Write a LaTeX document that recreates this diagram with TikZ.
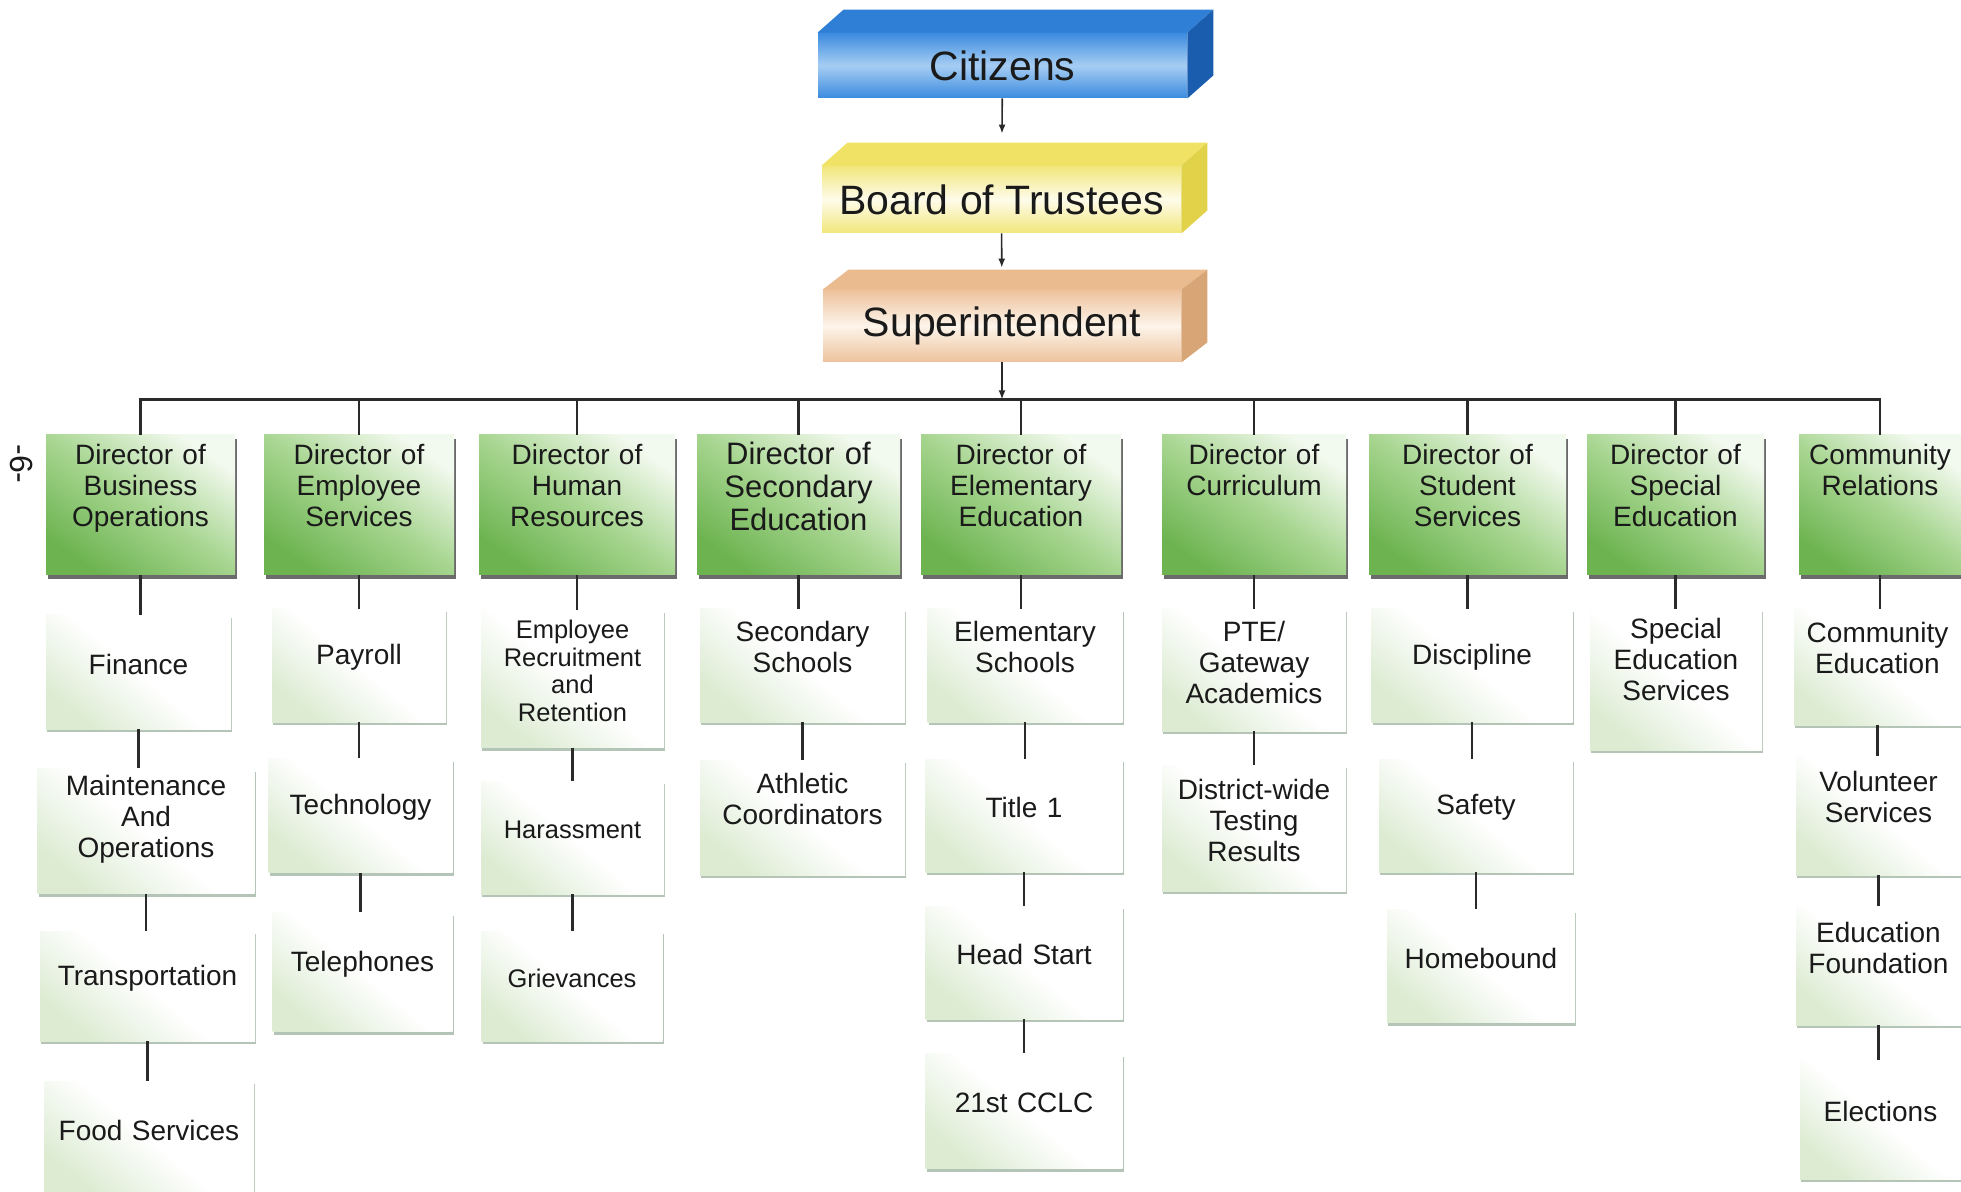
\documentclass[tikz,border=0pt]{standalone}
\usepackage{fontspec}
\setmainfont{Liberation Sans}
\usetikzlibrary{arrows.meta,positioning,calc,shadows}
\definecolor{CitTop}{HTML}{2E7FD5}
\definecolor{CitSide}{HTML}{1A5DAF}
\definecolor{CitFrontA}{HTML}{3B8BDF}
\definecolor{CitFrontB}{HTML}{A6CDF3}
\definecolor{BoardTop}{HTML}{EFE264}
\definecolor{BoardSide}{HTML}{E2D24A}
\definecolor{BoardFrontA}{HTML}{F2E67A}
\definecolor{BoardFrontB}{HTML}{FEFCEB}
\definecolor{SupTop}{HTML}{E9BB8F}
\definecolor{SupSide}{HTML}{D8A576}
\definecolor{SupFrontA}{HTML}{EDC29C}
\definecolor{SupFrontB}{HTML}{FDF4EA}
\definecolor{GreenDeep}{HTML}{6DB451}
\definecolor{GreenMid}{HTML}{A6D58F}
\definecolor{GreenPale}{HTML}{F2F9EE}
\definecolor{DirShadow}{HTML}{6B6B6B}
\definecolor{SubGreen}{HTML}{DCEBD2}
\definecolor{SubShadow}{HTML}{B4C4B6}
\definecolor{LineDark}{HTML}{2A2A2A}
\definecolor{TextDark}{HTML}{1A1A1A}

\begin{document}
\begin{tikzpicture}[x=0.5pt,y=-0.5pt,
    every node/.style={font=\fontsize{14}{15.5}\selectfont,text=TextDark},
    tier/.style={minimum width=#1,inner sep=0pt,font=\fontsize{20.5}{24}\selectfont},
    citbox/.style={tier=184.5pt,minimum height=32.5pt,top color=CitFrontA,bottom color=CitFrontA,middle color=CitFrontB},
    boardbox/.style={tier=179.5pt,minimum height=33.5pt,top color=BoardFrontA,bottom color=BoardFrontA,middle color=BoardFrontB},
    supbox/.style={tier=179pt,minimum height=36pt,top color=SupFrontA,bottom color=SupFrontA,middle color=SupFrontB},
    dirbox/.style={minimum width=#1,text width=#1-6pt,align=center,inner xsep=3pt,inner ysep=3pt,
      text height=12pt,text depth=52pt,
      top color=GreenPale,bottom color=GreenDeep,middle color=GreenMid,shading angle=-35,
      drop shadow={shadow xshift=1pt,shadow yshift=-2pt,fill=DirShadow,opacity=1}},
    lift/.style={execute at end node={\endgraf\vspace*{#1}}},
    subbox/.style 2 args={minimum width=#1,text width=#1-4pt,minimum height=#2,align=center,inner sep=2pt,
      top color=white,bottom color=SubGreen,middle color=white,shading angle=-40,lift=8pt,
      drop shadow={shadow xshift=.6pt,shadow yshift=-1.5pt,fill=SubShadow,opacity=1}},
    smallfont/.style={font=\fontsize{12.75}{13.75}\selectfont},
    link/.style={draw=LineDark,line width=1.2pt},
    arr/.style={-{Latex[length=4.5pt,width=3.5pt]},draw=LineDark,line width=.8pt}
  ]
    \useasboundingbox (0,0) rectangle (1961,1192);

    % page number
    \node[rotate=-90,font=\fontsize{16}{18}\selectfont] (page) at (22,464) {-6-};

    % governance
    \node[citbox] (cit) at (1002.5,65.5) {Citizens};
    \node[boardbox] (bot) at (1001.5,199.5) {Board of Trustees};
    \node[supbox] (sup) at (1002,326) {Superintendent};
    \fill[CitTop] (cit.north west) -- ++(26,-23) -- ($(cit.north east)+(26,-23)$) -- (cit.north east) -- cycle;
    \fill[CitSide] (cit.north east) -- ++(26,-23) -- ($(cit.south east)+(26,-23)$) -- (cit.south east) -- cycle;
    \fill[BoardTop] (bot.north west) -- ++(26,-23) -- ($(bot.north east)+(26,-23)$) -- (bot.north east) -- cycle;
    \fill[BoardSide] (bot.north east) -- ++(26,-23) -- ($(bot.south east)+(26,-23)$) -- (bot.south east) -- cycle;
    \fill[SupTop] (sup.north west) -- ++(26,-20) -- ($(sup.north east)+(26,-20)$) -- (sup.north east) -- cycle;
    \fill[SupSide] (sup.north east) -- ++(26,-20) -- ($(sup.south east)+(26,-20)$) -- (sup.south east) -- cycle;
    \draw[arr,shorten >=16pt] (cit) -- (bot);
    \draw[arr,shorten >=11pt] (bot) -- (sup);
    \coordinate (bus) at ($(sup.south)+(0,37)$);
    \draw[arr] (sup) -- (bus);

    % directors
    \node[dirbox=94.5pt] (dbo) at (140.5,505) {Director of\\Business\\Operations};
    \node[dirbox=95pt] (des) at (359,505) {Director of\\Employee\\Services};
    \node[dirbox=98pt] (dhr) at (577,505) {Director of\\Human\\Resources};
    \node[dirbox=101.5pt,font=\fontsize{15.5}{16.3}\selectfont] (dse) at (798.5,505) {Director of\\Secondary\\Education};
    \node[dirbox=100pt] (del) at (1021,505) {Director of\\Elementary\\Education};
    \node[dirbox=92pt] (dcu) at (1254,505) {Director of\\Curriculum};
    \node[dirbox=98.5pt] (dss) at (1467.5,505) {Director of\\Student\\Services};
    \node[dirbox=88.5pt] (dsp) at (1675.5,505) {Director of\\Special\\Education};
    \node[dirbox=81pt] (dcr) at (1880,505) {Community\\Relations};

    \draw[link] (bus) -| (dbo);
    \draw[link] (bus) -| (des);
    \draw[link] (bus) -| (dhr);
    \draw[link] (bus) -| (dse);
    \draw[link] (bus) -| (del);
    \draw[link] (bus) -| (dcu);
    \draw[link] (bus) -| (dss);
    \draw[link] (bus) -| (dsp);
    \draw[link] (bus) -| (dcr);

    % departments
    \node[subbox={92.5pt}{57pt}] (fin) at (138.5,672) {Finance};
    \node[subbox={108.5pt}{62.5pt},lift=4pt] (mao) at (146,831) {Maintenance\\And\\Operations};
    \node[subbox={107.5pt}{55pt}] (tra) at (147.5,986) {Transportation};
    \node[subbox={105pt}{57pt}] (fsv) at (149,1138) {Food Services};
    \node[subbox={87pt}{56.5pt}] (pay) at (359,665.5) {Payroll};
    \node[subbox={92pt}{57pt}] (tec) at (360.5,815.5) {Technology};
    \node[subbox={90pt}{59.5pt}] (tel) at (362.5,972) {Telephones};
    \node[subbox={91.5pt}{68.5pt},smallfont] (err) at (572.5,679) {Employee\\Recruitment\\and\\Retention};
    \node[subbox={91.5pt}{56.5pt},smallfont] (har) at (572.5,837.5) {Harassment};
    \node[subbox={90.5pt}{55pt},smallfont] (gri) at (572,986) {Grievances};
    \node[subbox={102.5pt}{56.5pt},lift=11pt] (ssc) at (802.5,665.5) {Secondary\\Schools};
    \node[subbox={102.5pt}{57.5pt},lift=11pt] (ath) at (802.5,817.5) {Athletic\\Coordinators};
    \node[subbox={97.5pt}{56.5pt},lift=11pt] (esc) at (1025,665.5) {Elementary\\Schools};
    \node[subbox={98.5pt}{56.5pt}] (tt1) at (1024,815.5) {Title 1};
    \node[subbox={98.5pt}{56.5pt}] (hst) at (1024,962.5) {Head Start};
    \node[subbox={98.5pt}{57.5pt}] (ccl) at (1024,1111) {21st CCLC};
    \node[subbox={92pt}{61pt}] (pte) at (1254,670) {PTE/\\Gateway\\Academics};
    \node[subbox={92pt}{63pt}] (dwt) at (1254,828) {District-wide\\Testing\\Results};
    \node[subbox={100.5pt}{56.5pt}] (dis) at (1472,665.5) {Discipline};
    \node[subbox={97pt}{56.5pt}] (saf) at (1476,815.5) {Safety};
    \node[subbox={94pt}{56.5pt}] (hom) at (1481,966) {Homebound};
    \node[subbox={86pt}{70.5pt},lift=12pt] (ses) at (1676,679.5) {Special\\Education\\Services};
    \node[subbox={83.5pt}{58pt},lift=11pt] (ced) at (1877.5,667) {Community\\Education};
    \node[subbox={82.5pt}{59.5pt},lift=11pt] (vol) at (1878.5,815.5) {Volunteer\\Services};
    \node[subbox={82.5pt}{59.5pt},lift=10pt] (edf) at (1878.5,965.5) {Education\\Foundation};
    \node[subbox={80.5pt}{59.5pt}] (ele) at (1880.5,1119.5) {Elections};

    \draw[link] (dbo) -- (dbo |- fin.north);
    \draw[link] (fin) -- (fin |- mao.north);
    \draw[link] (mao) -- (mao |- tra.north);
    \draw[link] (tra) -- (tra |- fsv.north);
    \draw[link] (des) -- (des |- pay.north);
    \draw[link] (pay) -- (pay |- tec.north);
    \draw[link] (tec) -- (tec |- tel.north);
    \draw[link] (dhr) -- (dhr |- err.north);
    \draw[link] (err) -- (err |- har.north);
    \draw[link] (har) -- (har |- gri.north);
    \draw[link] (dse) -- (dse |- ssc.north);
    \draw[link] (ssc) -- (ssc |- ath.north);
    \draw[link] (del) -- (del |- esc.north);
    \draw[link] (esc) -- (esc |- tt1.north);
    \draw[link] (tt1) -- (tt1 |- hst.north);
    \draw[link] (hst) -- (hst |- ccl.north);
    \draw[link] (dcu) -- (dcu |- pte.north);
    \draw[link] (pte) -- (pte |- dwt.north);
    \draw[link] (dss) -- (dss |- dis.north);
    \draw[link] (dis) -- (dis |- saf.north);
    \draw[link] (saf) -- (saf |- hom.north);
    \draw[link] (dsp) -- (dsp |- ses.north);
    \draw[link] (dcr) -- (dcr |- ced.north);
    \draw[link] (ced) -- (ced |- vol.north);
    \draw[link] (vol) -- (vol |- edf.north);
    \draw[link] (edf) -- (edf |- ele.north);
  \end{tikzpicture}
\end{document}
